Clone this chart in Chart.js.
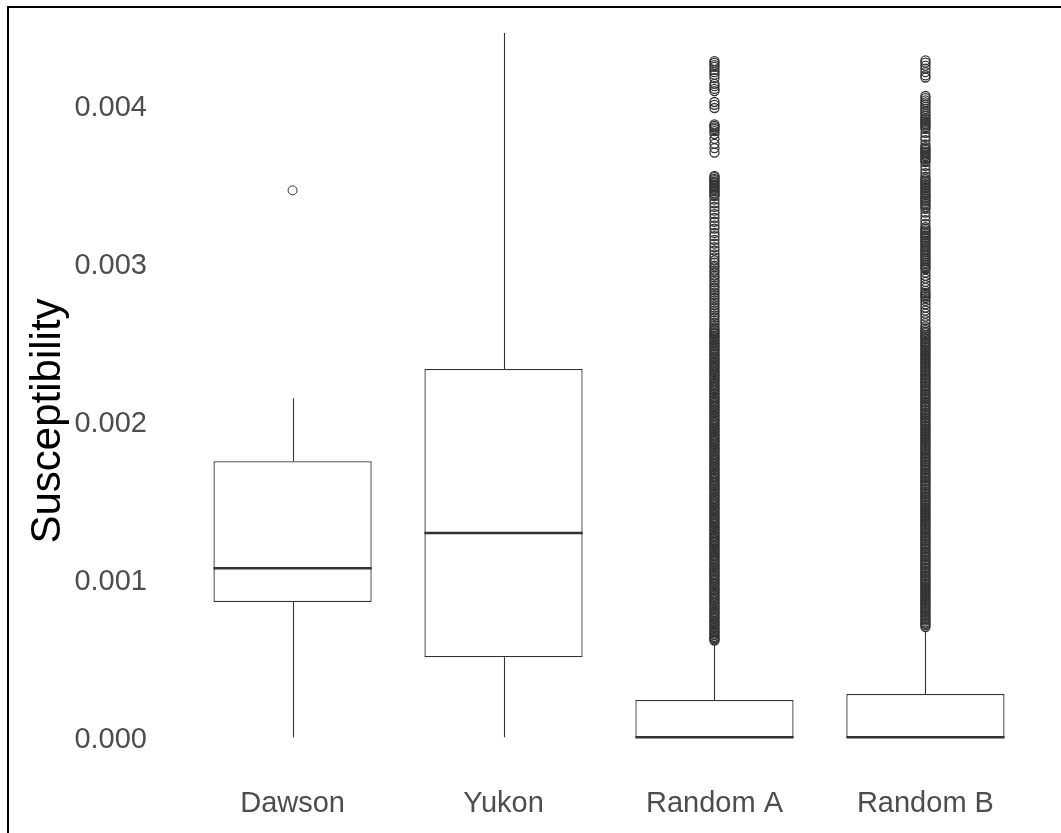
<!DOCTYPE html>
<html>
<head>
<meta charset="utf-8">
<script src="https://cdn.jsdelivr.net/npm/chart.js@4.4.1/dist/chart.umd.min.js"></script>
<style>
  html, body { margin: 0; padding: 0; background: #fff; }
  #wrap { position: relative; width: 1061px; height: 833px; overflow: hidden; }
  #frame { position: absolute; left: 7px; top: 6px; right: 0; bottom: 0;
           border-left: 2px solid #000; border-top: 2px solid #000; pointer-events: none; }
</style>
</head>
<body>
<div id="wrap">
  <canvas id="c" width="1061" height="833"></canvas>
  <div id="frame"></div>
</div>
<script>
// Box-plot summaries of magnetic susceptibility by site
const categories = ['Dawson', 'Yukon', 'Random A', 'Random B'];
const lowerWhisker = [0, 0, 0, 0];
const q1 = [0.000856, 0.000506, 0, 0];
const median = [0.001070, 0.001293, 0, 0];
const q3 = [0.001747, 0.002331, 0.000236, 0.000274];
const upperWhisker = [0.002146, 0.004458, 0.000590, 0.000670];

const yTicks = [0, 0.001, 0.002, 0.003, 0.004];

// Outlying observations beyond 1.5 IQR
const outliersDawson = [0.003462];
const outliersYukon = [];
const outliersRandomA = [
  0.004280, 0.004269, 0.004255, 0.004243, 0.004224, 0.004210, 0.004193, 0.004172, 0.004136, 0.004121,
  0.004104, 0.004090, 0.004021, 0.004003, 0.003983,
  0.003879, 0.003870, 0.003861, 0.003850, 0.003837, 0.003818, 0.003787, 0.003756, 0.003729, 0.003701,
  0.003553, 0.003546, 0.003535, 0.003527, 0.003517, 0.003510, 0.003498, 0.003491, 0.003481, 0.003472,
  0.003461, 0.003455, 0.003443, 0.003433, 0.003426, 0.003403, 0.003380, 0.003357, 0.003333, 0.003311,
  0.003288, 0.003263, 0.003240, 0.003220, 0.003192, 0.003172, 0.003149, 0.003125, 0.003102, 0.003081,
  0.003057, 0.003037, 0.003019, 0.003005, 0.002986, 0.002974, 0.002954, 0.002942, 0.002923, 0.002911,
  0.002892, 0.002880, 0.002860, 0.002847, 0.002829, 0.002815, 0.002798, 0.002782, 0.002766, 0.002751,
  0.002735, 0.002720, 0.002702, 0.002689, 0.002670, 0.002657, 0.002639, 0.002624, 0.002608, 0.002593,
  0.002580, 0.002571, 0.002559, 0.002552, 0.002539, 0.002532, 0.002521, 0.002511, 0.002499, 0.002492,
  0.002480, 0.002473, 0.002460, 0.002452, 0.002440, 0.002431, 0.002421, 0.002410, 0.002399, 0.002391,
  0.002378, 0.002370, 0.002359, 0.002351, 0.002339, 0.002331, 0.002317, 0.002310, 0.002298, 0.002290,
  0.002278, 0.002269, 0.002258, 0.002250, 0.002237, 0.002229, 0.002218, 0.002208, 0.002197, 0.002189,
  0.002177, 0.002169, 0.002156, 0.002149, 0.002137, 0.002129, 0.002117, 0.002107, 0.002096, 0.002089,
  0.002076, 0.002068, 0.002058, 0.002048, 0.002036, 0.002029, 0.002015, 0.002008, 0.001997, 0.001988,
  0.001976, 0.001968, 0.001956, 0.001947, 0.001937, 0.001928, 0.001915, 0.001908, 0.001896, 0.001888,
  0.001875, 0.001869, 0.001856, 0.001848, 0.001835, 0.001828, 0.001817, 0.001807, 0.001796, 0.001788,
  0.001776, 0.001767, 0.001757, 0.001748, 0.001735, 0.001728, 0.001716, 0.001707, 0.001697, 0.001688,
  0.001675, 0.001668, 0.001656, 0.001647, 0.001637, 0.001628, 0.001616, 0.001607, 0.001596, 0.001588,
  0.001575, 0.001568, 0.001557, 0.001547, 0.001536, 0.001528, 0.001515, 0.001508, 0.001497, 0.001487,
  0.001476, 0.001468, 0.001455, 0.001448, 0.001437, 0.001427, 0.001416, 0.001408, 0.001395, 0.001388,
  0.001377, 0.001367, 0.001356, 0.001348, 0.001335, 0.001328, 0.001317, 0.001307, 0.001296, 0.001288,
  0.001275, 0.001268, 0.001257, 0.001247, 0.001236, 0.001228, 0.001215, 0.001208, 0.001197, 0.001187,
  0.001176, 0.001168, 0.001155, 0.001148, 0.001137, 0.001127, 0.001116, 0.001108, 0.001095, 0.001088,
  0.001077, 0.001067, 0.001056, 0.001048, 0.001035, 0.001028, 0.001017, 0.001007, 0.000996, 0.000988,
  0.000975, 0.000968, 0.000957, 0.000947, 0.000936, 0.000928, 0.000915, 0.000908, 0.000897, 0.000887,
  0.000876, 0.000868, 0.000855, 0.000848, 0.000837, 0.000827, 0.000816, 0.000808, 0.000795, 0.000788,
  0.000777, 0.000767, 0.000756, 0.000748, 0.000735, 0.000728, 0.000717, 0.000707, 0.000696, 0.000688,
  0.000675, 0.000668, 0.000657, 0.000647, 0.000636, 0.000628, 0.000619, 0.000612
];
const outliersRandomB = [
  0.004284, 0.004270, 0.004251, 0.004232, 0.004210, 0.004189, 0.004176,
  0.004059, 0.004046, 0.004031, 0.004019, 0.004004, 0.003990, 0.003977, 0.003961, 0.003948, 0.003934,
  0.003921, 0.003912, 0.003899, 0.003890, 0.003881, 0.003872, 0.003862, 0.003851,
  0.003826, 0.003801, 0.003779, 0.003752,
  0.003736, 0.003727, 0.003718, 0.003707, 0.003699, 0.003688, 0.003679, 0.003668, 0.003660, 0.003649, 0.003640,
  0.003617, 0.003593, 0.003570, 0.003548,
  0.003533, 0.003523, 0.003514, 0.003503, 0.003493, 0.003482, 0.003473, 0.003462, 0.003451, 0.003440,
  0.003431, 0.003420, 0.003409, 0.003398, 0.003390, 0.003378, 0.003367, 0.003356, 0.003345,
  0.003321, 0.003297, 0.003273, 0.003250,
  0.003229, 0.003219, 0.003208, 0.003197, 0.003188, 0.003176, 0.003165, 0.003156, 0.003144, 0.003133,
  0.003124, 0.003112, 0.003101, 0.003090, 0.003081, 0.003069, 0.003057, 0.003047, 0.003036, 0.003025,
  0.003014, 0.003003, 0.002992, 0.002981, 0.002970, 0.002962,
  0.002941, 0.002921, 0.002903, 0.002882, 0.002862, 0.002844, 0.002826, 0.002812, 0.002801, 0.002790,
  0.002779, 0.002762, 0.002741, 0.002719, 0.002700, 0.002681, 0.002662, 0.002640, 0.002621, 0.002601,
  0.002588, 0.002577, 0.002566, 0.002558, 0.002546, 0.002537, 0.002527, 0.002518, 0.002506, 0.002497,
  0.002488, 0.002476, 0.002468, 0.002457, 0.002447, 0.002438, 0.002426, 0.002418, 0.002407, 0.002397,
  0.002388, 0.002376, 0.002368, 0.002357, 0.002347, 0.002338, 0.002326, 0.002318, 0.002307, 0.002297,
  0.002288, 0.002276, 0.002268, 0.002257, 0.002247, 0.002238, 0.002226, 0.002218, 0.002207, 0.002197,
  0.002188, 0.002176, 0.002168, 0.002157, 0.002147, 0.002138, 0.002126, 0.002118, 0.002107, 0.002097,
  0.002088, 0.002076, 0.002068, 0.002057, 0.002047, 0.002038, 0.002026, 0.002018, 0.002007, 0.001997,
  0.001988, 0.001976, 0.001968, 0.001957, 0.001947, 0.001938, 0.001926, 0.001918, 0.001907, 0.001897,
  0.001888, 0.001876, 0.001868, 0.001857, 0.001847, 0.001838, 0.001826, 0.001818, 0.001807, 0.001797,
  0.001788, 0.001776, 0.001768, 0.001757, 0.001747, 0.001738, 0.001726, 0.001718, 0.001707, 0.001697,
  0.001688, 0.001676, 0.001668, 0.001657, 0.001647, 0.001638, 0.001626, 0.001618, 0.001607, 0.001597,
  0.001588, 0.001576, 0.001568, 0.001557, 0.001547, 0.001538, 0.001526, 0.001518, 0.001507, 0.001497,
  0.001488, 0.001476, 0.001468, 0.001457, 0.001447, 0.001438, 0.001426, 0.001418, 0.001407, 0.001397,
  0.001388, 0.001376, 0.001368, 0.001357, 0.001347, 0.001338, 0.001326, 0.001318, 0.001307, 0.001297,
  0.001288, 0.001276, 0.001268, 0.001257, 0.001247, 0.001238, 0.001226, 0.001218, 0.001207, 0.001197,
  0.001188, 0.001176, 0.001168, 0.001157, 0.001147, 0.001138, 0.001126, 0.001118, 0.001107, 0.001097,
  0.001088, 0.001076, 0.001068, 0.001057, 0.001047, 0.001038, 0.001026, 0.001018, 0.001007, 0.000997,
  0.000988, 0.000976, 0.000968, 0.000957, 0.000947, 0.000938, 0.000926, 0.000918, 0.000907, 0.000897,
  0.000888, 0.000876, 0.000868, 0.000857, 0.000847, 0.000838, 0.000826, 0.000818, 0.000807, 0.000797,
  0.000788, 0.000776, 0.000768, 0.000757, 0.000747, 0.000738, 0.000726, 0.000718, 0.000709, 0.000698
];
const outlierGroups = [outliersDawson, outliersYukon, outliersRandomA, outliersRandomB];

const INK = '#333333';
const TICK_COLOR = '#4d4d4d';
const FONT = "'Liberation Sans', Arial, sans-serif";

// Categories sit at x = 1..n on a linear axis padded by 0.6 of a slot on each side
const boxData = categories.map((_, i) => ({ x: i + 1, y: [q1[i], q3[i]] }));

// One scatter layer of open circles per site; the crowded columns get a slightly heavier ring
const outlierSets = outlierGroups.map((vals, i) => ({
  type: 'scatter',
  data: vals.map(v => ({ x: i + 1, y: v })),
  pointStyle: 'circle',
  pointRadius: 4.5,
  pointBorderWidth: vals.length > 50 ? 1.3 : 1,
  pointBorderColor: INK,
  pointBackgroundColor: 'rgba(0,0,0,0)',
  order: 1
}));

// Whiskers (under the boxes) and medians (over them)
const boxLines = {
  id: 'boxLines',
  beforeDatasetsDraw(chart) {
    const { ctx, scales: { x, y } } = chart;
    ctx.save();
    ctx.strokeStyle = INK;
    ctx.lineWidth = 1.1;
    categories.forEach((_, i) => {
      const px = Math.round(x.getPixelForValue(i + 1)) + 0.5;
      ctx.beginPath();
      ctx.moveTo(px, y.getPixelForValue(q3[i]));
      ctx.lineTo(px, y.getPixelForValue(upperWhisker[i]));
      ctx.moveTo(px, y.getPixelForValue(q1[i]));
      ctx.lineTo(px, y.getPixelForValue(lowerWhisker[i]));
      ctx.stroke();
    });
    ctx.restore();
  },
  afterDatasetsDraw(chart) {
    const { ctx, scales: { y } } = chart;
    const bars = chart.getDatasetMeta(0).data;
    ctx.save();
    ctx.strokeStyle = INK;
    ctx.lineWidth = 2.4;
    bars.forEach((bar, i) => {
      const py = y.getPixelForValue(median[i]);
      ctx.beginPath();
      ctx.moveTo(bar.x - bar.width / 2, py);
      ctx.lineTo(bar.x + bar.width / 2, py);
      ctx.stroke();
    });
    ctx.restore();
  }
};

// Rotated y-axis title, centred beside the panel
const yTitle = {
  id: 'yTitle',
  afterDraw(chart) {
    const { ctx } = chart;
    ctx.save();
    ctx.translate(48, 421);
    ctx.rotate(-Math.PI / 2);
    ctx.fillStyle = '#000';
    ctx.font = '42px ' + FONT;
    ctx.textAlign = 'center';
    ctx.textBaseline = 'middle';
    ctx.fillText('Susceptibility', 0, 0);
    ctx.restore();
  }
};

const noEdgePadding = (scale) => {
  scale.paddingTop = 0; scale.paddingBottom = 0;
  scale.paddingLeft = 0; scale.paddingRight = 0;
};

new Chart(document.getElementById('c'), {
  data: {
    datasets: [
      {
        type: 'bar',
        data: boxData,
        backgroundColor: '#ffffff',
        borderColor: INK,
        borderWidth: 1.3,
        borderSkipped: false,
        categoryPercentage: 1,
        barPercentage: 0.75,
        order: 2
      },
      ...outlierSets
    ]
  },
  options: {
    responsive: false,
    animation: false,
    devicePixelRatio: 1,
    layout: { padding: { top: 8, right: 9, bottom: 0, left: 0 } },
    plugins: { legend: { display: false }, tooltip: { enabled: false } },
    scales: {
      x: {
        type: 'linear',
        offset: false,
        min: 0.4,
        max: 4.6,
        grid: { display: false, drawTicks: false },
        border: { display: false },
        afterFit(scale) { scale.height = 60; noEdgePadding(scale); },
        afterBuildTicks(scale) { scale.ticks = categories.map((_, i) => ({ value: i + 1 })); },
        ticks: {
          padding: 14,
          color: TICK_COLOR,
          font: { family: FONT, size: 29 },
          callback: (v) => categories[Math.round(v) - 1]
        }
      },
      y: {
        type: 'linear',
        min: -0.000226,
        max: 0.004616,
        grid: { display: false, drawTicks: false },
        border: { display: false },
        afterFit(scale) { scale.width = 166; noEdgePadding(scale); },
        afterBuildTicks(scale) { scale.ticks = yTicks.map(v => ({ value: v })); },
        ticks: {
          padding: 19,
          labelOffset: 3,
          color: TICK_COLOR,
          font: { family: FONT, size: 29 },
          callback: (v) => Number(v).toFixed(3)
        }
      }
    }
  },
  plugins: [boxLines, yTitle]
});
</script>
</body>
</html>
